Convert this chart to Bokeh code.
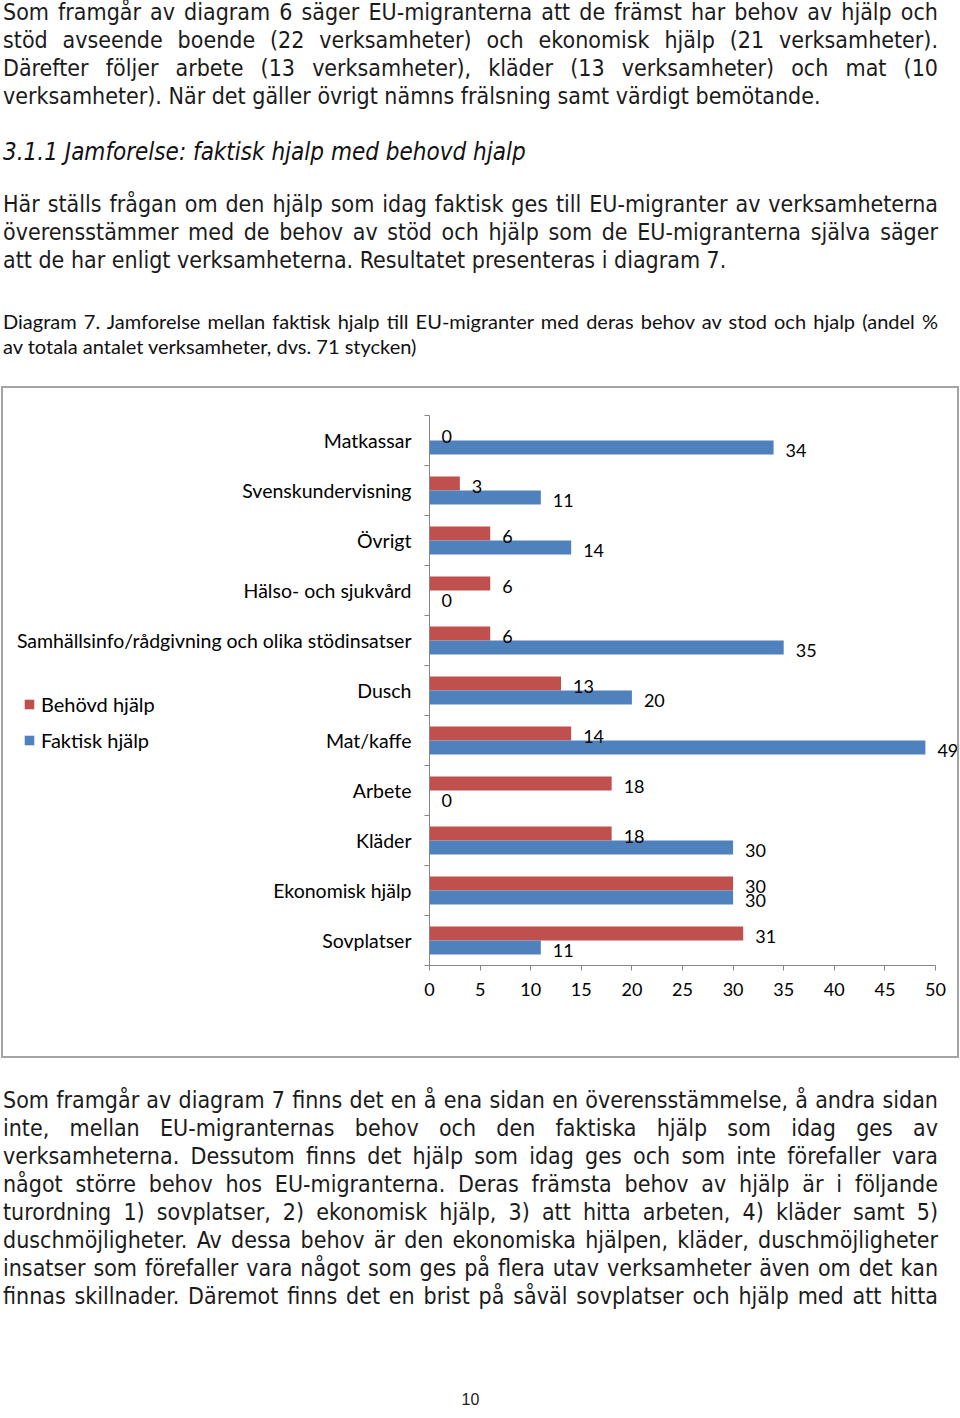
from bokeh.plotting import figure
from bokeh.models import (ColumnDataSource, Range1d, FixedTicker, LabelSet, Legend,
                          LegendItem, Div)
from bokeh.layouts import column, row
from bokeh.transform import dodge
from bokeh.core.properties import value
from bokeh.embed import file_html
from bokeh.resources import INLINE

# ---------------- data ----------------
categories = ["Matkassar", "Svenskundervisning", "Övrigt", "Hälso- och sjukvård",
              "Samhällsinfo/rådgivning och olika stödinsatser", "Dusch", "Mat/kaffe",
              "Arbete", "Kläder", "Ekonomisk hjälp", "Sovplatser"]
behovd = [0, 3, 6, 6, 6, 13, 14, 18, 18, 30, 31]
faktisk = [34, 11, 14, 0, 35, 20, 49, 0, 30, 30, 11]
series_names = ["Behövd hjälp", "Faktisk hjälp"]
x_ticks = [0, 5, 10, 15, 20, 25, 30, 35, 40, 45, 50]

para1 = ["Som framgår av diagram 6 säger EU-migranterna att de främst har behov av hjälp och",
         "stöd avseende boende (22 verksamheter) och ekonomisk hjälp (21 verksamheter).",
         "Därefter följer arbete (13 verksamheter), kläder (13 verksamheter) och mat (10",
         "verksamheter). När det gäller övrigt nämns frälsning samt värdigt bemötande."]
heading = "3.1.1 Jamforelse: faktisk hjalp med behovd hjalp"
para2 = ["Här ställs frågan om den hjälp som idag faktisk ges till EU-migranter av verksamheterna",
         "överensstämmer med de behov av stöd och hjälp som de EU-migranterna själva säger",
         "att de har enligt verksamheterna. Resultatet presenteras i diagram 7."]
caption = ["Diagram 7. Jamforelse mellan faktisk hjalp till EU-migranter med deras behov av stod och hjalp (andel %",
           "av totala antalet verksamheter, dvs. 71 stycken)"]
para3 = ["Som framgår av diagram 7 finns det en å ena sidan en överensstämmelse, å andra sidan",
         "inte, mellan EU-migranternas behov och den faktiska hjälp som idag ges av",
         "verksamheterna. Dessutom finns det hjälp som idag ges och som inte förefaller vara",
         "något större behov hos EU-migranterna. Deras främsta behov av hjälp är i följande",
         "turordning 1) sovplatser, 2) ekonomisk hjälp, 3) att hitta arbeten, 4) kläder samt 5)",
         "duschmöjligheter. Av dessa behov är den ekonomiska hjälpen, kläder, duschmöjligheter",
         "insatser som förefaller vara något som ges på flera utav verksamheter även om det kan",
         "finnas skillnader. Däremot finns det en brist på såväl sovplatser och hjälp med att hitta"]
page_number = "10"

RED = "#C0504D"
BLUE = "#4F81BD"
GREY = "#868686"

# ---------------- text helpers ----------------
BODY = ("font-family:'DejaVu Sans Condensed','DejaVu Sans',sans-serif;font-stretch:condensed;"
        "font-size:23px;color:#1b1b1b;")
HEAD = ("font-family:'Liberation Sans Narrow','DejaVu Sans Condensed',sans-serif;font-style:italic;"
        "font-size:24px;color:#111;")
CAP = "font-family:'Lato',sans-serif;font-size:20px;color:#111;"
PAGE = "font-family:'Liberation Sans',sans-serif;font-size:16px;color:#222;"


def line_html(text, baseline, style, size, ratio, justify=True, align="left", left=3, width=935):
    top = baseline - ratio * size
    just = "text-align:justify;text-align-last:justify;" if justify else f"text-align:{align};"
    return (f"<div style=\"position:absolute;left:{left}px;top:{top:.1f}px;width:{width}px;"
            f"height:{size}px;line-height:{size}px;white-space:nowrap;{style}{just}\">{text}</div>")


def block(lines, first_baseline, step, style, size, ratio, last_justified=False, offset=0):
    out = []
    for i, t in enumerate(lines):
        just = last_justified or i < len(lines) - 1
        out.append(line_html(t, first_baseline + i * step - offset, style, size, ratio, just))
    return out


TOP_H = 388
FIG_H = 668
BOT_H = 1418 - TOP_H - FIG_H

top_parts = []
top_parts += block(para1, 20, 28, BODY, 23, 0.846)
top_parts.append(line_html(heading, 160, HEAD, 24, 0.8465, justify=False))
top_parts += block(para2, 212, 28, BODY, 23, 0.846)
top_parts += block(caption, 329, 25, CAP, 20, 0.887)
top_html = (f"<div style=\"position:relative;width:960px;height:{TOP_H}px;\">"
            + "".join(top_parts) + "</div>")

bot_parts = []
off = TOP_H + FIG_H
bot_parts += block(para3, 1108, 28, BODY, 23, 0.846, last_justified=True, offset=off)
bot_parts.append(line_html(page_number, 1405 - off, PAGE, 16, 0.8465, justify=False, align="center"))
bot_html = (f"<div style=\"position:relative;width:960px;height:{BOT_H}px;\">"
            + "".join(bot_parts) + "</div>")

div_top = Div(text=top_html, width=960, height=TOP_H, margin=0)
div_bot = Div(text=bot_html, width=960, height=BOT_H, margin=0)

# ---------------- chart ----------------
n = len(categories)
pos = [n - i - 0.5 for i in range(n)]
source = ColumnDataSource(dict(cat=categories, pos=pos, behovd=behovd, faktisk=faktisk,
                               behovd_lbl=[str(v) for v in behovd],
                               faktisk_lbl=[str(v) for v in faktisk]))

FIG_W = 954
BL = 426
p = figure(width=FIG_W, height=FIG_H, x_range=Range1d(0, 50 * (FIG_W - BL) / 506.0),
           y_range=Range1d(0, n),
           output_backend="svg", toolbar_location=None, title=None,
           min_border_left=BL, min_border_right=0, min_border_top=27, min_border_bottom=91,
           margin=(0, 0, 0, 3),
           styles={"outline": "2px solid #a3a3a3"})
p.outline_line_color = None
p.background_fill_color = "white"
p.border_fill_color = "white"
p.xgrid.visible = False
p.ygrid.visible = False

OFF = 0.14
H = 0.28
p.hbar(y=dodge("pos", OFF, range=p.y_range), left=0, right="behovd", height=H,
       fill_color=RED, line_color=None, source=source)
p.hbar(y=dodge("pos", -OFF, range=p.y_range), left=0, right="faktisk", height=H,
       fill_color=BLUE, line_color=None, source=source)

for field, lbl, o in (("behovd", "behovd_lbl", OFF), ("faktisk", "faktisk_lbl", -OFF)):
    p.add_layout(LabelSet(x=field, y=dodge("pos", o, range=p.y_range), text=lbl, source=source,
                          x_offset=12, y_offset=-3, text_baseline="middle", text_align="left",
                          text_font=value("Lato"), text_font_size="18px", text_color="#000"))

xa = p.xaxis[0]
xa.ticker = FixedTicker(ticks=x_ticks)
xa.bounds = (0, 50)
xa.axis_line_color = GREY
xa.major_tick_line_color = GREY
xa.major_tick_out = 5
xa.major_tick_in = 0
xa.minor_tick_line_color = None
xa.major_label_standoff = 12
xa.major_label_text_font = "Lato"
xa.major_label_text_font_size = "18px"
xa.major_label_text_color = "#000"

ya = p.yaxis[0]
ya.ticker = FixedTicker(ticks=pos, minor_ticks=list(range(0, n + 1)))
ya.major_label_overrides = {pp: c for pp, c in zip(pos, categories)}
ya.axis_line_color = GREY
ya.major_tick_line_color = None
ya.major_tick_out = 0
ya.major_tick_in = 0
ya.minor_tick_line_color = GREY
ya.minor_tick_out = 5
ya.minor_tick_in = 0
ya.major_label_standoff = 13
ya.major_label_text_font = "Lato"
ya.major_label_text_font_size = "19.5px"
ya.major_label_text_color = "#000"

# ---------------- legend (transparent strip laid over the chart) ----------------
LEG_W, LEG_H = 200, 60
LEG_TOP = 692
LEG_LEFT = 17
lf = figure(width=LEG_W, height=LEG_H, x_range=Range1d(0, 1), y_range=Range1d(0, 1),
            output_backend="svg", toolbar_location=None, title=None,
            x_axis_location=None, y_axis_location=None, min_border=0, margin=0)
lf.xgrid.visible = False
lf.ygrid.visible = False
lf.outline_line_color = None
lf.background_fill_alpha = 0
lf.border_fill_alpha = 0
nan = float("nan")
leg_red = lf.scatter(x=[nan], y=[nan], marker="square", size=9, fill_color=RED, line_color=None)
leg_blue = lf.scatter(x=[nan], y=[nan], marker="square", size=9, fill_color=BLUE, line_color=None)
legend = Legend(items=[LegendItem(label=series_names[0], renderers=[leg_red]),
                       LegendItem(label=series_names[1], renderers=[leg_blue])],
                location="top_left", orientation="vertical",
                glyph_width=24, glyph_height=24, label_height=24, label_standoff=0,
                spacing=12, padding=0, margin=0, border_line_color=None,
                background_fill_alpha=0, label_text_font="Lato",
                label_text_font_size="20px", label_text_color="#000")
lf.add_layout(legend)
legend_box = row(lf, width=LEG_W, height=LEG_H,
                 margin=(LEG_TOP - (TOP_H + FIG_H), 0, (TOP_H + FIG_H) - LEG_TOP - LEG_H, LEG_LEFT))

layout = column(div_top, p, legend_box, div_bot, spacing=0)

open("out.html", "w").write(file_html(layout, INLINE))
